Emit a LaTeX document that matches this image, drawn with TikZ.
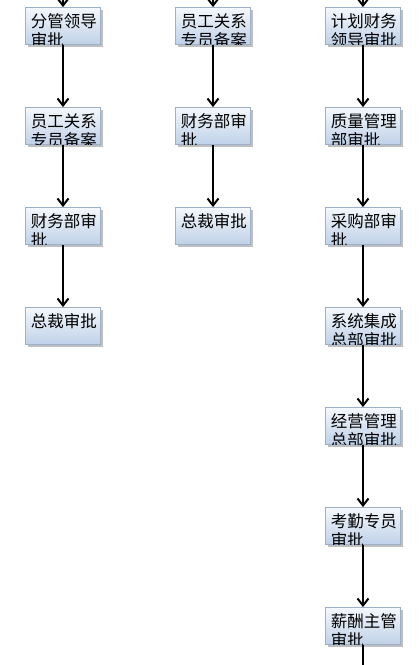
\documentclass[tikz,border=0pt]{standalone}
\usepackage{fontspec}
\newfontfamily\cjk{Noto Sans CJK SC}
\usetikzlibrary{arrows.meta,shadows}
\definecolor{boxtop}{HTML}{F5F8FC}
\definecolor{boxbot}{HTML}{BFD1E8}
\definecolor{boxline}{HTML}{9DB0C8}
\tikzset{
  boxfont/.style={font=\cjk\fontsize{16.5pt}{19pt}\selectfont, inner sep=0pt, anchor=base west},
  flowbox/.style={rectangle, draw=boxline, line width=0.8pt,
    top color=boxtop, bottom color=boxbot,
    minimum width=75pt, minimum height=37pt, inner sep=0pt,
    drop shadow={shadow xshift=2.5pt, shadow yshift=-2.5pt, fill=black!50, opacity=0.5}},
  flowarrow/.style={line width=2pt, -{Straight Barb[length=7pt,width=11pt,line width=2pt]}},
}
\begin{document}
\begin{tikzpicture}[x=1pt,y=-1pt]
\useasboundingbox (0,0) rectangle (420,665);
\def\mk#1#2#3#4#5{%
  \node[flowbox] (#1) at (#2,#3) {};
  \begin{scope}
    \clip (#1.south west) rectangle (#1.north east);
    \node[boxfont] (#1t1) at ([xshift=5.5pt,yshift=-20.5pt]#1.north west) {#4};
    \node[boxfont] (#1t2) at ([xshift=5.5pt,yshift=-39.5pt]#1.north west) {#5};
  \end{scope}}
% column 1
\mk{a1}{63}{26}{分管领导}{审批}
\mk{a2}{63}{126}{员工关系}{专员备案}
\mk{a3}{63}{226}{财务部审}{批}
\mk{a4}{63}{326}{总裁审批}{}
% column 2
\mk{b1}{213}{26}{员工关系}{专员备案}
\mk{b2}{213}{126}{财务部审}{批}
\mk{b3}{213}{226}{总裁审批}{}
% column 3
\mk{c1}{363}{26}{计划财务}{领导审批}
\mk{c2}{363}{126}{质量管理}{部审批}
\mk{c3}{363}{226}{采购部审}{批}
\mk{c4}{363}{326}{系统集成}{总部审批}
\mk{c5}{363}{426}{经营管理}{总部审批}
\mk{c6}{363}{526}{考勤专员}{审批}
\mk{c7}{363}{626}{薪酬主管}{审批}
% incoming / outgoing free ends
\coordinate (ta) at (63,0);
\coordinate (tb) at (213,0);
\coordinate (tc) at (363,0);
\coordinate (bc) at (363,665);
\draw[flowarrow] (ta) -- (a1.north);
\draw[flowarrow] (tb) -- (b1.north);
\draw[flowarrow] (tc) -- (c1.north);
\draw[flowarrow] (a1) -- (a2);
\draw[flowarrow] (a2) -- (a3);
\draw[flowarrow] (a3) -- (a4);
\draw[flowarrow] (b1) -- (b2);
\draw[flowarrow] (b2) -- (b3);
\draw[flowarrow] (c1) -- (c2);
\draw[flowarrow] (c2) -- (c3);
\draw[flowarrow] (c3) -- (c4);
\draw[flowarrow] (c4) -- (c5);
\draw[flowarrow] (c5) -- (c6);
\draw[flowarrow] (c6) -- (c7);
\draw[line width=2pt] (c7.south) -- (bc);
\end{tikzpicture}
\end{document}
